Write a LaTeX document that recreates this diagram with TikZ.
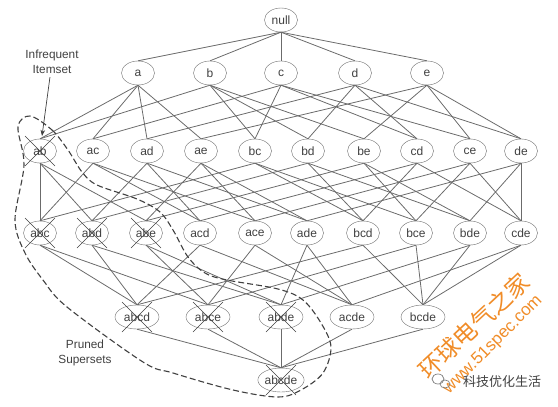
\documentclass[tikz,border=0pt]{standalone}
\usepackage{fontspec}
\setmainfont{Liberation Sans}
\newfontfamily\cjkfont{Noto Sans CJK SC}
\usetikzlibrary{arrows, arrows.meta, shapes.geometric}
\definecolor{edgegray}{gray}{0.42}
\definecolor{textgray}{gray}{0.25}
\definecolor{markorange}{RGB}{240,140,40}
\tikzset{
  item/.style={draw=edgegray, ellipse, inner sep=0pt, minimum width=33pt, minimum height=24pt, font=\fontsize{12}{12}\selectfont, text=textgray},
  longitem/.style={item, minimum width=44pt},
  note/.style={align=center, font=\fontsize{11.8}{14.5}\selectfont, text=textgray},
  link/.style={draw=edgegray, line width=0.8pt},
  crossing/.style={draw=textgray, line width=0.6pt},
  chat/.style={draw=gray, line width=0.7pt}
}

\begin{document}
\begin{tikzpicture}[x=1pt, y=-1pt]
  \useasboundingbox (0,0) rectangle (558,407);

  % Nodes
  \node[item] (null) at (281,20) {null};

  \node[item] (a) at (138,73) {a};
  \node[item] (b) at (210,73) {b};
  \node[item] (c) at (281,73) {c};
  \node[item] (d) at (355,73) {d};
  \node[item] (e) at (427,73) {e};

  \node[item] (ab) at (40,151) {ab};
  \node[item] (ac) at (93,151) {ac};
  \node[item] (ad) at (147,151) {ad};
  \node[item] (ae) at (201,151) {ae};
  \node[item] (bc) at (255,151) {bc};
  \node[item] (bd) at (308,151) {bd};
  \node[item] (be) at (364,151) {be};
  \node[item] (cd) at (417,151) {cd};
  \node[item] (ce) at (470,151) {ce};
  \node[item] (de) at (521,151) {de};

  \node[item] (abc) at (40,233) {abc};
  \node[item] (abd) at (92,233) {abd};
  \node[item] (abe) at (146,233) {abe};
  \node[item] (acd) at (200,233) {acd};
  \node[item] (ace) at (255,233) {ace};
  \node[item] (ade) at (307,233) {ade};
  \node[item] (bcd) at (363,233) {bcd};
  \node[item] (bce) at (416,233) {bce};
  \node[item] (bde) at (470,233) {bde};
  \node[item] (cde) at (521,233) {cde};

  \node[longitem] (abcd) at (137,317) {abcd};
  \node[longitem] (abce) at (208,317) {abce};
  \node[longitem] (abde) at (281,317) {abde};
  \node[longitem] (acde) at (352,317) {acde};
  \node[longitem] (bcde) at (423,317) {bcde};

  \node[longitem] (abcde) at (281,380) {abcde};

  % Labels
  \node[note] (infrequent) at (52,62) {Infrequent\\Itemset};
  \node[note] (pruned) at (85,353) {Pruned\\Supersets};
  \coordinate (tip) at (42,136);

  % Drawing
  \foreach \top/\low in {null/a, null/b, null/c, null/d, null/e,
      a/ab, a/ac, a/ad, a/ae, b/ab, b/bc, b/bd, b/be,
      c/ac, c/bc, c/cd, c/ce, d/ad, d/bd, d/cd, d/de,
      e/ae, e/be, e/ce, e/de,
      ab/abc, ab/abd, ab/abe, ac/abc, ac/acd, ac/ace,
      ad/abd, ad/acd, ad/ade, ae/abe, ae/ace, ae/ade,
      bc/abc, bc/bcd, bc/bce, bd/abd, bd/bcd, bd/bde,
      be/abe, be/bce, be/bde, cd/acd, cd/bcd, cd/cde,
      ce/ace, ce/bce, ce/cde, de/ade, de/bde, de/cde,
      abc/abcd, abc/abce, abd/abcd, abd/abde, abe/abce, abe/abde,
      acd/abcd, acd/acde, ace/abce, ace/acde, ade/abde, ade/acde,
      bcd/abcd, bcd/bcde, bce/abce, bce/bcde, bde/abde, bde/bcde,
      cde/acde, cde/bcde,
      abcd/abcde, abce/abcde, abde/abcde, acde/abcde, bcde/abcde}
    \draw[link] (\top.south) -- (\low.north);

  % Crosses
  \foreach \name in {ab, abc, abd, abe, abcd, abce, abde, abcde} {
    \draw[crossing] ([shift={(-15,-15)}]\name.center) -- ([shift={(15,15)}]\name.center);
    \draw[crossing] ([shift={(-15,15)}]\name.center) -- ([shift={(15,-15)}]\name.center);
  }

  \draw[-Stealth, textgray, line width=0.7pt] (infrequent) -- (tip);
  \draw[textgray, line width=1.1pt, dash pattern=on 6pt off 3pt] plot[smooth cycle, tension=0.55] coordinates {
    (30,116) (52,130) (68,150) (82,172) (97,185) (137,199) (160,212) (173,230)
    (188,257) (205,273) (227,280) (278,289) (303,300) (321,323) (331,347) (323,373)
    (301,390) (278,397) (233,390) (173,373) (143,362) (67,307) (43,280)
    (25,253) (15,220) (24,165) (18,127)};

  % Watermark
  \node[rotate=43, text=markorange, font=\cjkfont\fontsize{23.5}{23.5}\selectfont] (markname) at (474,326) {环球电气之家};
  \node[rotate=45, text=markorange, font=\fontsize{17}{17}\selectfont] (marksite) at (493,345) {www.51spec.com};
  \node[text=textgray, font=\cjkfont\fontsize{13}{13}\selectfont] (markline) at (502,382) {科技优化生活};
  \draw[chat] (438,379) ellipse (6 and 5);
  \draw[chat] (445,384) ellipse (5 and 4);
\end{tikzpicture}
\end{document}
